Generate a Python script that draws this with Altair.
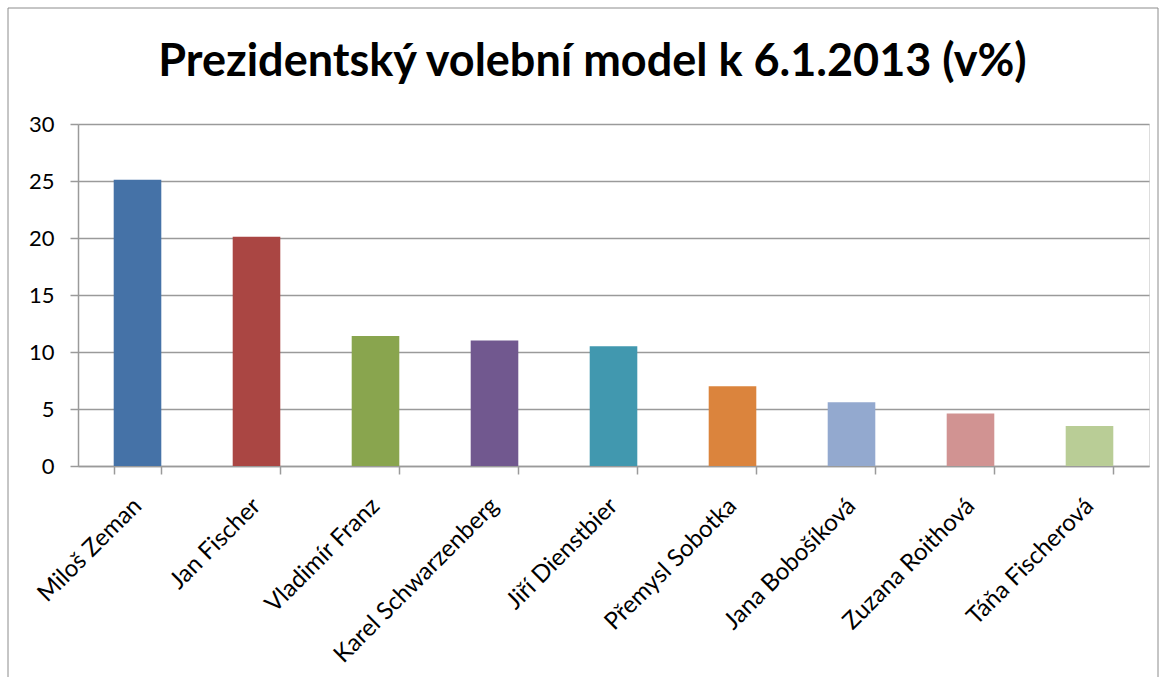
import altair as alt
import pandas as pd

candidates = ["Miloš Zeman", "Jan Fischer", "Vladimír Franz", "Karel Schwarzenberg",
              "Jiří Dienstbier", "Přemysl Sobotka", "Jana Bobošíková",
              "Zuzana Roithová", "Táňa Fischerová"]
values = [25.1, 20.1, 11.4, 11.0, 10.5, 7.0, 5.6, 4.6, 3.5]
colors = ["#4572A7", "#AA4643", "#89A54E", "#71588F", "#4198AF",
          "#DB843D", "#93A9CF", "#D19392", "#B9CD96"]
y_ticks = [0, 5, 10, 15, 20, 25, 30]
title_text = "Prezidentský volební model k 6.1.2013 (v%)"

df = pd.DataFrame({"kandidat": candidates, "hodnota": values})

W, H = 1071, 342
FONT = "Lato"
GRAY = "#9a9a9a"

bars = alt.Chart(df).mark_bar().encode(
    x=alt.X("kandidat:N", sort=candidates,
            scale=alt.Scale(paddingInner=0.6, paddingOuter=0.3),
            axis=alt.Axis(title=None, labelAngle=315, labelAlign="right",
                          labelBaseline="middle", tickBand="extent", labelLimit=0,
                          labelFontSize=24, labelFont=FONT, labelColor="black",
                          labelPadding=28, tickSize=8, tickColor=GRAY, tickWidth=1.5,
                          domainColor=GRAY, domainWidth=1.5, grid=False)),
    y=alt.Y("hodnota:Q", scale=alt.Scale(domain=[0, 30], nice=False),
            axis=alt.Axis(values=y_ticks, title=None, labelFontSize=22, labelFont=FONT,
                          labelColor="black", labelPadding=16, tickSize=8,
                          tickColor=GRAY, tickWidth=1.5, domainColor=GRAY,
                          domainWidth=1.5, gridColor=GRAY, gridWidth=1.5)),
    color=alt.Color("kandidat:N", scale=alt.Scale(domain=candidates, range=colors),
                    legend=None),
)

frame = alt.Chart(pd.DataFrame({"k": [0]})).mark_rect(
    filled=False, stroke="#8c8c8c", strokeWidth=1
).encode(
    x=alt.value(-70), x2=alt.value(1080), y=alt.value(-116), y2=alt.value(580)
)

chart = alt.layer(frame, bars).properties(
    width=W, height=H,
    title=alt.TitleParams(title_text, font=FONT, fontSize=45, fontWeight="bold",
                          color="black", anchor="middle", dx=-21, offset=-113,
                          baseline="alphabetic"),
    padding={"left": 78, "top": 124, "right": 16, "bottom": 211},
    autosize="none",
).configure_view(stroke=None).configure(background="white")

chart.save("out.html", embed_options={"renderer": "svg", "actions": False})
